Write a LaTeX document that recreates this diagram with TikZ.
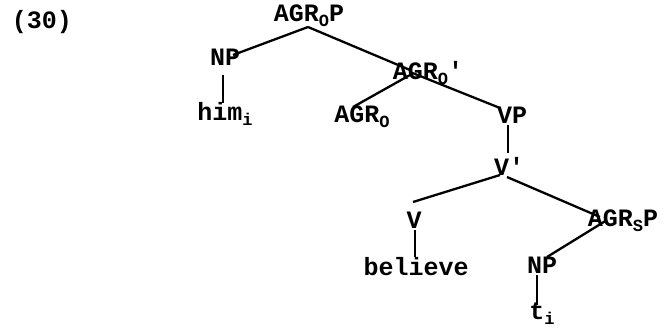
\documentclass[tikz,border=0pt]{standalone}
\usepackage{fontspec}
\setmonofont{Liberation Mono}
\usepackage{tikz}
\usetikzlibrary{calc}

\newcommand{\sub}[1]{\raisebox{-0.4ex}{\fontsize{8.5}{9}\selectfont #1}}

\begin{document}
\begin{tikzpicture}[x=0.5pt, y=-0.5pt,
    cat/.style={anchor=base, inner sep=0pt, font=\ttfamily\bfseries\fontsize{12.5}{14}\selectfont},
    branch/.style={line width=1.15pt}]
      \useasboundingbox (0,0) rectangle (667,327);

      \node[cat] (ex) at (42,28) {(30)};

      \node[cat] (agrop) at (309,21) {AGR\sub{O}P};
      \node[cat] (np1) at (225,65) {NP};
      \node[cat] (agrob) at (428,79) {AGR\sub{O}'};
      \node[cat] (him) at (225,120) {him\sub{i}};
      \node[cat] (agro) at (362,122) {AGR\sub{O}};
      \node[cat] (vp) at (512,123) {VP};
      \node[cat] (vbar) at (509,175) {V'};
      \node[cat] (v) at (414,228) {V};
      \node[cat] (agrsp) at (623,226) {AGR\sub{S}P};
      \node[cat] (believe) at (416,275) {believe};
      \node[cat] (np2) at (542,273) {NP};
      \node[cat] (ti) at (542,319) {t\sub{i}};

      % branches
      \draw[branch] ($(agrop.base)+(-1,6)$) -- ($(np1.base)+(8,-10)$);
      \draw[branch] ($(agrop.base)+(-1,6)$) -- ($(agrob.base)+(-18,-9)$);
      \draw[branch] ($(np1.base)+(-2,10)$) -- ($(him.base)+(-2,-17)$);
      \draw[branch] ($(agrob.base)+(-18,-4)$) -- ($(agro.base)+(-9,-15)$);
      \draw[branch] ($(agrob.base)+(-18,-7)$) -- ($(vp.base)+(-12,-15)$);
      \draw[branch] ($(vp.base)+(-4,2)$) -- ($(vbar.base)+(-1,-22)$);
      \draw[branch] ($(vbar.base)+(-9,0)$) -- ($(v.base)+(-1,-26)$);
      \draw[branch] ($(vbar.base)+(-2,2)$) -- ($(agrsp.base)+(-23,-9)$);
      \draw[branch] ($(v.base)+(1,2)$) -- ($(believe.base)+(-1,-18)$);
      \draw[branch] ($(agrsp.base)+(-16,-6)$) -- ($(np2.base)+(5,-16)$);
      \draw[branch] ($(np2.base)+(-5,2)$) -- ($(ti.base)+(-5,-14)$);
    \end{tikzpicture}
\end{document}
